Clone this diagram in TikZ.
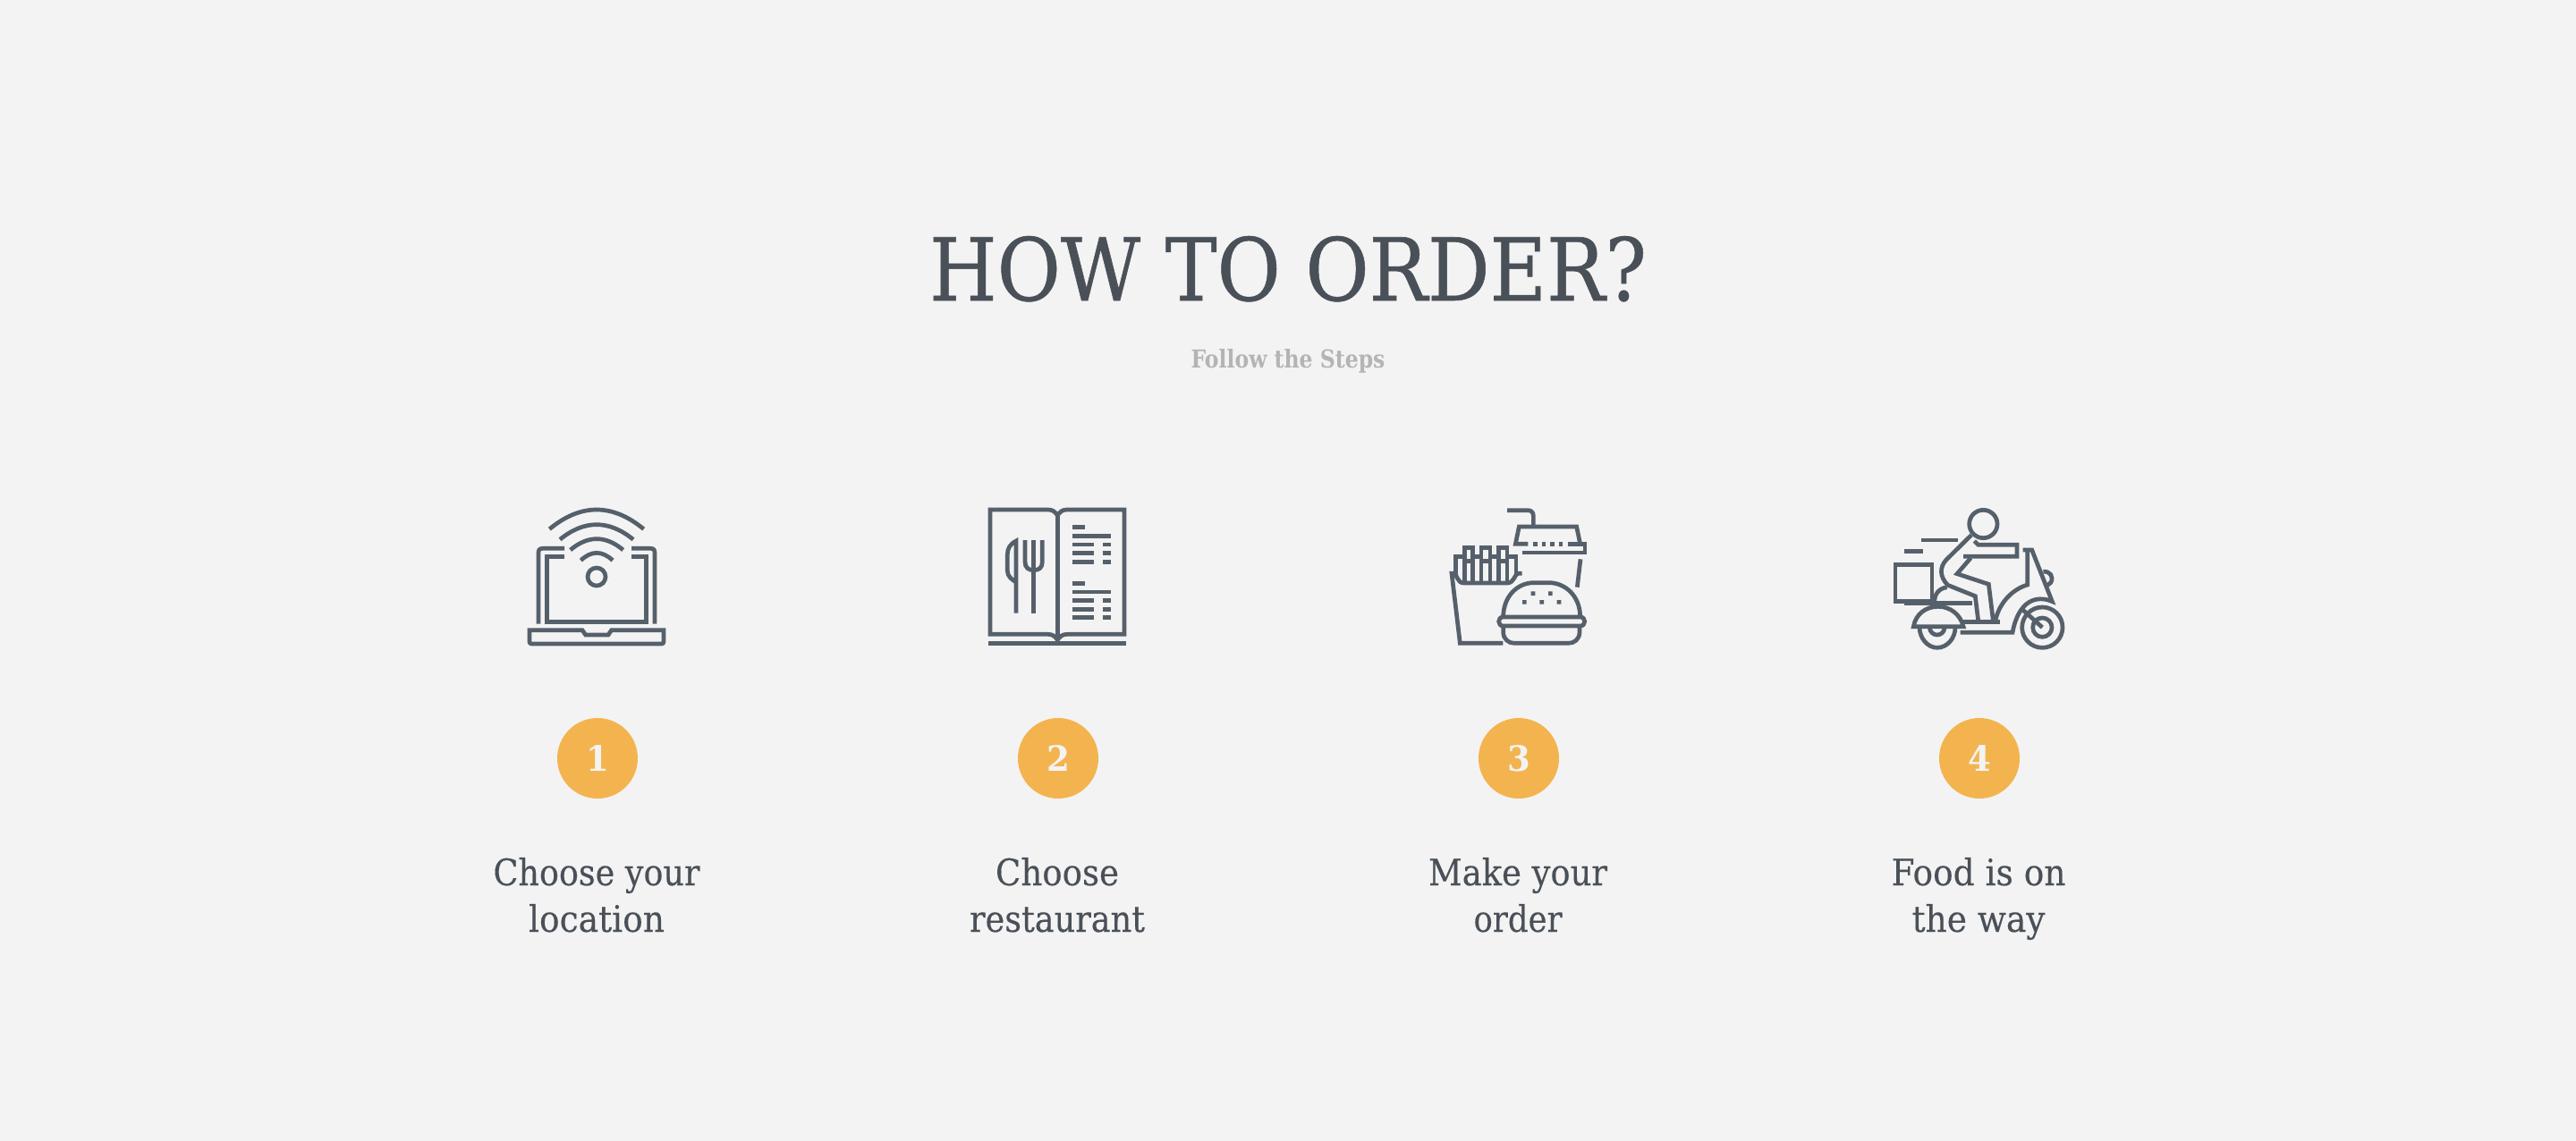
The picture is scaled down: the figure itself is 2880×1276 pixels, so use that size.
\documentclass[tikz,border=0pt]{standalone}
\usepackage{fontspec}
\usepackage{graphicx}
\setmainfont{DejaVu Serif}
\newfontfamily\heavyfont[FakeBold=0.6]{DejaVu Serif}
\newfontfamily\midfont[FakeBold=0.25]{DejaVu Serif}
\definecolor{bgc}{HTML}{F3F3F3}
\definecolor{ink}{HTML}{56606B}
\definecolor{titlec}{HTML}{4A5058}
\definecolor{subc}{HTML}{B4B4B4}
\definecolor{badgec}{HTML}{F3B44F}
\newcommand{\fitlab}[3]{\resizebox{#1pt}{#2pt}{\vphantom{h}#3}}
\tikzset{
  txt/.style={anchor=base,inner sep=0pt,outer sep=0pt,text=titlec,font=\fontsize{40pt}{40pt}\selectfont\midfont},
  titletxt/.style={anchor=base,inner sep=0pt,outer sep=0pt,text=titlec,font=\fontsize{97pt}{97pt}\selectfont\heavyfont},
  subtxt/.style={anchor=base,inner sep=0pt,outer sep=0pt,text=subc,font=\fontsize{28pt}{28pt}\selectfont\bfseries},
  badge/.style={circle,fill=badgec,minimum size=90pt,inner sep=0pt,outer sep=0pt,text=bgc,font=\fontsize{39pt}{39pt}\selectfont\bfseries},
  ico/.style={draw=ink,line width=4.7pt,line cap=butt,line join=miter},
  icoscope/.style={x=0.33333pt,y=-0.33333pt},
}
\begin{document}
\begin{tikzpicture}[x=1pt,y=-1pt]
\path[use as bounding box,fill=bgc] (0,0) rectangle (2880,1276);

\node[titletxt] (title) at (1440,336) {\resizebox{802pt}{72pt}{HOW TO ORDER?}};
\node[subtxt] (subtitle) at (1440,411) {\resizebox{217pt}{21pt}{Follow the Steps}};

\node[badge] (b1) at (668,848) {\scalebox{0.95}[1]{1}};
\node[badge] (b2) at (1183,848) {\scalebox{0.95}[1]{2}};
\node[badge] (b3) at (1698,848) {\scalebox{0.95}[1]{3}};
\node[badge] (b4) at (2213,848) {\scalebox{0.95}[1]{4}};

\node[txt] (l1a) at (667,990) {\fitlab{231}{31}{Choose your}};
\node[txt] (l1b) at (667,1042) {\fitlab{152}{31}{location}};
\node[txt] (l2a) at (1182,990) {\fitlab{138}{31}{Choose}};
\node[txt] (l2b) at (1182,1042) {\fitlab{196}{31}{restaurant}};
\node[txt] (l3a) at (1697,990) {\fitlab{200}{31}{Make your}};
\node[txt] (l3b) at (1697,1042) {\fitlab{99}{31}{order}};
\node[txt] (l4a) at (2212,990) {\fitlab{195}{31}{Food is on}};
\node[txt] (l4b) at (2212,1042) {\fitlab{149}{31}{the way}};

% Icon 1: laptop with wifi
\begin{scope}[shift={(570,550)},icoscope]
\draw[ico] (291,285) circle (30);
\draw[ico] (238,230) .. controls (274,196.7) and (309,196.7) .. (345,230);
\draw[ico] (203,195) .. controls (262,145.7) and (321,145.7) .. (380,195);
\draw[ico] (168,160) .. controls (250,93.3) and (332,93.3) .. (414,160);
\draw[ico] (133,125) .. controls (238,38.3) and (344,38.3) .. (449,125);
\draw[ico] (96,443) -- (96,205) .. controls (96,195) and (100,190) .. (110,190) -- (183,190);
\draw[ico] (408,190) -- (472,190) .. controls (482,190) and (486,195) .. (486,205) -- (486,443);
\draw[ico] (183,218) -- (125,218) -- (125,437) -- (457,437) -- (457,218) -- (408,218);
\draw[ico] (66,464) -- (243,464) -- (254,480) -- (330,480) -- (341,464) -- (516,464) -- (516,503) .. controls (516,507) and (513,510) .. (509,510) -- (73,510) .. controls (69,510) and (66,507) .. (66,503) -- cycle;
\end{scope}

% Icon 2: menu book
\begin{scope}[shift={(1090,550)},icoscope]
\draw[ico] (277,497) .. controls (268,484) and (260,478) .. (245,478) -- (51,478) -- (51,60) -- (245,60) .. controls (260,60) and (268,66) .. (277,79) .. controls (286,66) and (294,60) .. (309,60) -- (501,60) -- (501,478) -- (309,478) .. controls (294,478) and (286,484) .. (277,497) -- cycle;
\draw[ico] (277,79) -- (277,497);
\draw[ico] (45,509) -- (507,509);
\draw[ico] (327,119) -- (369,119);
\draw[ico] (327,148) -- (456,148);
\draw[ico] (327,177) -- (398,177) (428,177) -- (456,177);
\draw[ico] (327,206) -- (398,206) (428,206) -- (456,206);
\draw[ico] (327,235) -- (398,235) (428,235) -- (456,235);
\draw[ico] (327,307) -- (369,307);
\draw[ico] (327,336) -- (456,336);
\draw[ico] (327,365) -- (398,365) (428,365) -- (456,365);
\draw[ico] (327,394) -- (398,394) (428,394) -- (456,394);
\draw[ico] (327,422) -- (398,422) (428,422) -- (456,422);
\draw[ico] (138,407) -- (138,165) .. controls (118,175) and (109,190) .. (109,210) -- (109,265) .. controls (109,285) and (125,295) .. (138,303);
\draw[ico] (168,162) -- (168,235) .. controls (168,255) and (180,263) .. (197,263) .. controls (214,263) and (226,255) .. (226,235) -- (226,162);
\draw[ico] (197,162) -- (197,407);
\end{scope}

% Icon 3: fries, drink and burger
\begin{scope}[shift={(1600,550)},icoscope]
\draw[ico] (255,62) -- (325,62) .. controls (337,62) and (343,70) .. (343,82) -- (343,117);
\draw[ico] (325,175) -- (283,175) -- (295,117) -- (488,117) -- (500,175);
\draw[ico] (343,175) -- (356,175) (371,175) -- (385,175) (400,175) -- (414,175) (428,175) -- (442,175);
\draw[ico] (458,175) -- (516,175) -- (516,204) -- (306,204);
\draw[ico] (501,226) -- (490,320);
\draw[ico] (241,508) -- (97,508) -- (69,274) -- (78,274) .. controls (86,274) and (86,306) .. (110,306) -- (255,306) .. controls (280,306) and (280,274) .. (292,274) -- (305,274);
\draw[ico] (83,275) -- (83,217) -- (112,217);
\draw[ico] (112,300) -- (112,188) -- (140,188) -- (140,300);
\draw[ico] (140,217) -- (168,217);
\draw[ico] (168,300) -- (168,188) -- (198,188) -- (198,300);
\draw[ico] (198,217) -- (226,217);
\draw[ico] (226,300) -- (226,188) -- (255,188) -- (255,300);
\draw[ico] (255,217) -- (285,217) -- (285,275);
\draw[ico] (112,232) -- (140,232) (168,232) -- (198,232) (226,232) -- (255,232);
\draw[ico] (242,420) .. controls (242,350) and (290,305) .. (345,305) -- (395,305) .. controls (450,305) and (500,350) .. (500,420);
\draw[ico] (242,420) -- (500,420) .. controls (520,420) and (520,450) .. (500,450) -- (242,450) .. controls (222,450) and (222,420) .. (242,420) -- cycle;
\draw[ico] (242,450) -- (242,470) .. controls (242,495) and (260,508) .. (280,508) -- (460,508) .. controls (480,508) and (498,495) .. (498,470) -- (498,450);
\fill[ink] (335,334) rectangle (349,348) (393,334) rectangle (407,348);
\fill[ink] (306,363) rectangle (320,377) (364,363) rectangle (378,377) (422,363) rectangle (436,377);
\end{scope}

% Icon 4: delivery scooter
\begin{scope}[shift={(2100,550)},icoscope]
\draw[ico] (352,108) circle (47);
\draw[ico] (145,162) -- (267,162);
\draw[ico] (87,200) -- (150,200);
\draw[ico] (180,367) -- (57,367) -- (57,244) -- (180,244) -- cycle;
\draw[ico] (312,145) -- (228,228) .. controls (205,252) and (205,285) .. (233,313) -- (325,350) -- (335,432);
\draw[ico] (322,165) -- (335,178) -- (465,178) -- (465,217) -- (285,217);
\draw[ico] (310,222) -- (264,275) -- (370,310) -- (385,432);
\draw[ico] (87,373) -- (315,373);
\draw[ico] (188,373) .. controls (188,345) and (200,325) .. (230,320);
\draw[ico] (118,452) .. controls (125,410) and (160,385) .. (200,385) .. controls (240,385) and (275,410) .. (285,452) -- cycle;
\draw[ico] (138,455) .. controls (138,490) and (165,523) .. (197,523) .. controls (232,523) and (258,490) .. (258,455);
\draw[ico] (172,455) .. controls (172,470) and (185,480) .. (197,480) .. controls (210,480) and (222,470) .. (222,455);
\draw[ico] (280,437) -- (408,437);
\draw[ico] (392,437) .. controls (400,385) and (440,330) .. (500,312) -- (500,195) -- (485,195) -- (515,195) -- (583,368) .. controls (530,345) and (470,365) .. (450,472) -- (275,472);
\draw[ico] (550,455) circle (68);
\draw[ico] (550,455) circle (32);
\draw[ico] (478,390) -- (550,455);
\draw[ico] (553,268) .. controls (575,265) and (590,285) .. (578,305) -- (565,315);
\end{scope}
\end{tikzpicture}
\end{document}
